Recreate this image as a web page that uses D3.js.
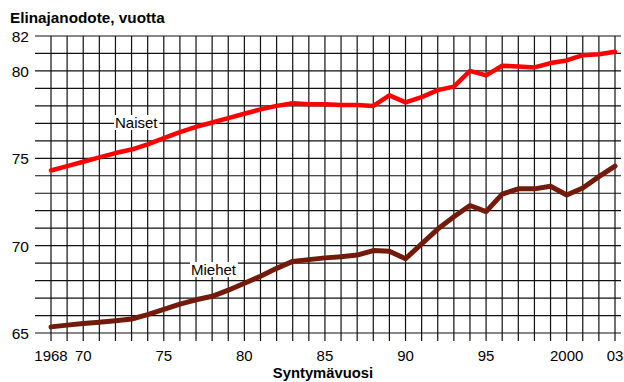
<!DOCTYPE html>
<html>
<head>
<meta charset="utf-8">
<script src="https://cdn.jsdelivr.net/npm/d3@7"></script>
<style>
    body { margin: 0; background: #fff; }
    text { font-family: "Liberation Sans", Arial, sans-serif; }
</style>
</head>
<body>
<script>
// Life expectancy at birth, Finland 1968-2003
var years = d3.range(1968, 2004);
var naiset = [74.3, 74.55, 74.8, 75.05, 75.3, 75.5, 75.8, 76.15, 76.5, 76.8,
    77.05, 77.3, 77.55, 77.8, 78.0, 78.15, 78.1, 78.1, 78.05, 78.05,
    78.0, 78.6, 78.2, 78.5, 78.9, 79.1, 80.0, 79.75, 80.3, 80.25,
    80.2, 80.45, 80.6, 80.9, 80.95, 81.1];
var miehet = [65.35, 65.45, 65.55, 65.62, 65.7, 65.8, 66.05, 66.35, 66.65, 66.9,
    67.1, 67.45, 67.85, 68.25, 68.7, 69.1, 69.2, 69.3, 69.37, 69.46,
    69.72, 69.68, 69.25, 70.1, 70.95, 71.65, 72.3, 71.95, 72.95, 73.25,
    73.25, 73.4, 72.9, 73.3, 73.95, 74.55];
var yTicks = [65, 70, 75, 80, 82];
var xTicks = [1968, 1970, 1975, 1980, 1985, 1990, 1995, 2000, 2003];
var xTickLabels = ["1968", "70", "75", "80", "85", "90", "95", "2000", "03"];

var W = 624, H = 382;
var x = d3.scaleLinear().domain([1968, 2003]).range([51, 615]);
var y = d3.scaleLinear().domain([65, 82]).range([333, 36]);

var svg = d3.select("body").append("svg")
    .attr("width", W)
    .attr("height", H);

// grid: horizontal every year of age, vertical every birth year
svg.append("g").selectAll("line")
    .data(d3.range(65, 83))
    .enter().append("line")
    .attr("x1", 35).attr("x2", 621)
    .attr("y1", function(d) { return y(d); })
    .attr("y2", function(d) { return y(d); })
    .attr("stroke", "#111").attr("stroke-width", 1.2);

svg.append("g").selectAll("line")
    .data(years)
    .enter().append("line")
    .attr("x1", function(d) { return x(d); })
    .attr("x2", function(d) { return x(d); })
    .attr("y1", y(82)).attr("y2", 341)
    .attr("stroke", "#111").attr("stroke-width", 1.2);

// tick labels
svg.append("g").selectAll("text")
    .data(yTicks)
    .enter().append("text")
    .attr("x", 29)
    .attr("y", function(d) { return y(d) + 6; })
    .attr("text-anchor", "end")
    .attr("font-size", "15.5px")
    .text(function(d) { return d; });

svg.append("g").selectAll("text")
    .data(xTicks)
    .enter().append("text")
    .attr("x", function(d) { return x(d); })
    .attr("y", 361)
    .attr("text-anchor", "middle")
    .attr("font-size", "15px")
    .text(function(d, i) { return xTickLabels[i]; });

// titles
svg.append("text")
    .attr("x", 10).attr("y", 23)
    .attr("font-size", "15.3px").attr("font-weight", "bold")
    .text("Elinajanodote, vuotta");

svg.append("text")
    .attr("x", 323).attr("y", 378)
    .attr("text-anchor", "middle")
    .attr("font-size", "14.8px").attr("font-weight", "bold")
    .text("Syntymävuosi");

// lines
var line = d3.line()
    .x(function(d, i) { return x(years[i]); })
    .y(function(d) { return y(d); });

svg.append("path")
    .datum(naiset)
    .attr("d", line)
    .attr("fill", "none")
    .attr("stroke", "#ff0000")
    .attr("stroke-width", 4.5)
    .attr("stroke-linejoin", "round")
    .attr("stroke-linecap", "round");

svg.append("path")
    .datum(miehet)
    .attr("d", line)
    .attr("fill", "none")
    .attr("stroke", "#731a0a")
    .attr("stroke-width", 5)
    .attr("stroke-linejoin", "round")
    .attr("stroke-linecap", "round");

// series labels with white boxes
function label(txt, cx, by) {
    var t = svg.append("text")
        .attr("x", cx).attr("y", by)
        .attr("font-size", "15px")
        .text(txt);
    var b = t.node().getBBox();
    svg.insert("rect", function() { return t.node(); })
        .attr("x", b.x - 1).attr("y", b.y + 1)
        .attr("width", b.width + 2).attr("height", b.height - 2)
        .attr("fill", "#fff");
}
label("Naiset", 115, 128);
label("Miehet", 191, 275);
</script>
</body>
</html>
